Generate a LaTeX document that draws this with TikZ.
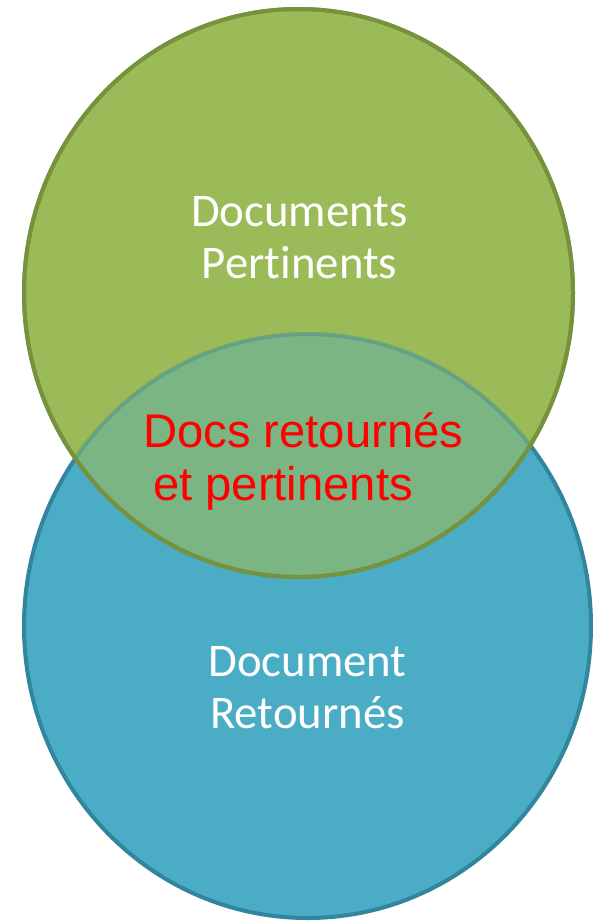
\documentclass[tikz,border=0pt]{standalone}
\usepackage{fontspec}
\setmainfont{Carlito}[Ligatures=NoCommon]
\newfontfamily\arialfont{Liberation Sans}

\definecolor{pertFill}{HTML}{9BBB59}
\definecolor{pertLine}{HTML}{76923C}
\definecolor{retFill}{HTML}{4BACC6}
\definecolor{retLine}{HTML}{31859C}

\begin{document}
\begin{tikzpicture}[x=1pt,y=1pt,yscale=-1,
  setlabel/.style={text=white,align=center,inner sep=0pt,font=\fontsize{46.8}{52}\selectfont},
  bothlabel/.style={text=red,align=left,inner sep=0pt,font=\arialfont\fontsize{47.2}{53}\selectfont}]
\useasboundingbox (0,0) rectangle (599,921);

% returned documents (bottom set)
\draw [line width=4pt,draw=retLine,fill=retFill] (307.5,626) ellipse [x radius=283.5,y radius=292];
% relevant documents (top set)
\draw [line width=4pt,draw=pertLine,fill=pertFill] (298.5,293) ellipse [x radius=274.5,y radius=284];
% overlap: blue shows through the green
\begin{scope}
  \clip (298.5,293) ellipse [x radius=274.5,y radius=284];
  \draw [line width=4pt,draw=retLine,fill=retFill,opacity=0.4] (307.5,626) ellipse [x radius=283.5,y radius=292];
\end{scope}
\draw [line width=4pt,draw=pertLine] (298.5,293) ellipse [x radius=274.5,y radius=284];

% Text Node
\node [setlabel] (pert) at (299.5,238) {Documents\\Pertinents};
% Text Node
\node [setlabel] (ret) at (307.5,688) {Document\\Retournés};
% Text Node
\node [bothlabel,anchor=west] (both) at (143,462) {Docs retournés\\\hspace*{10pt}et pertinents};

\end{tikzpicture}
\end{document}
